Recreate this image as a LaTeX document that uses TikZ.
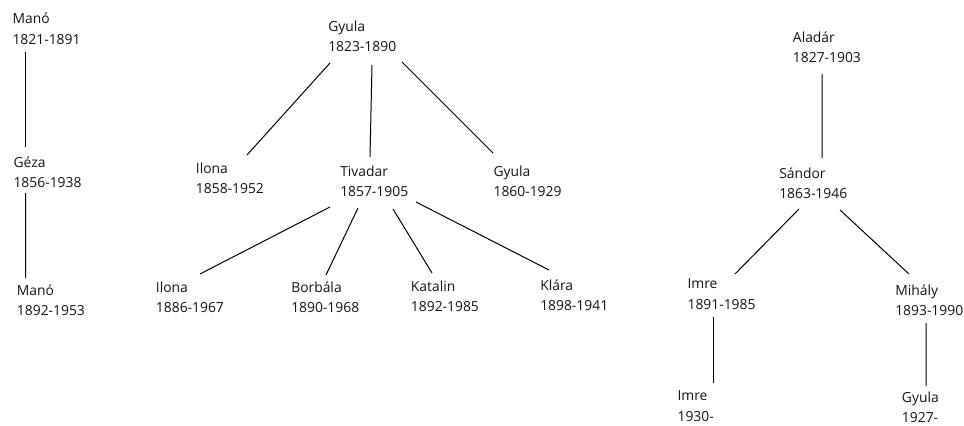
\documentclass[tikz,border=0pt]{standalone}
\usepackage{fontspec}
\setmainfont{Open Sans}
\usetikzlibrary{calc}

\definecolor{textgray}{RGB}{20,20,20}
\tikzset{
  person/.style={anchor=north west, inner sep=0pt, align=left, text=textgray,
    font=\fontsize{10.4}{15.4}\selectfont},
  kin/.style={draw=black, line width=0.75pt}
}

\begin{document}
\begin{tikzpicture}[x=0.75pt, y=-0.75pt]
  \useasboundingbox (0,0) rectangle (964,425);

  % first family
  \node[person] (mano1) at (12.3,13) {Manó\\1821-1891};
  \node[person] (geza) at (13.3,156.5) {Géza\\1856-1938};
  \node[person] (mano2) at (16.7,284.5) {Manó\\1892-1953};

  % second family
  \node[person] (gyula1) at (328,20.5) {Gyula\\1823-1890};
  \node[person] (ilona1) at (195.7,162.5) {Ilona\\1858-1952};
  \node[person] (tivadar) at (340,165.5) {Tivadar\\1857-1905};
  \node[person] (gyula2) at (493.3,165.5) {Gyula\\1860-1929};
  \node[person] (ilona2) at (155.7,281.5) {Ilona\\1886-1967};
  \node[person] (borbala) at (291,281.5) {Borbála\\1890-1968};
  \node[person] (katalin) at (410.7,280.5) {Katalin\\1892-1985};
  \node[person] (klara) at (540,279.5) {Klára\\1898-1941};

  % third family
  \node[person] (aladar) at (792.7,31.5) {Aladár\\1827-1903};
  \node[person] (sandor) at (779,167.5) {Sándor\\1863-1946};
  \node[person] (imre1) at (687.3,278.5) {Imre\\1891-1985};
  \node[person] (mihaly) at (895,284.5) {Mihály\\1893-1990};
  \node[person] (imre2) at (677.3,390.5) {Imre\\1930-};
  \node[person] (gyula3) at (901.7,391.5) {Gyula\\1927-};

  % connectors
  \draw[kin] ($(mano1.north west)+(13.4,39)$) -- ($(geza.north west)+(12.4,-9.5)$);
  \draw[kin] ($(geza.north west)+(12.4,36.5)$) -- ($(mano2.north west)+(9,-6.5)$);

  \draw[kin] ($(gyula1.north west)+(2,42.5)$) -- ($(ilona1.north west)+(51.3,-7.5)$);
  \draw[kin] ($(gyula1.north west)+(44,44.5)$) -- ($(tivadar.north west)+(30,-8.5)$);
  \draw[kin] ($(gyula1.north west)+(74,41.5)$) -- ($(gyula2.north west)+(-0.3,-12.5)$);
  \draw[kin] ($(tivadar.north west)+(-10,41.5)$) -- ($(ilona2.north west)+(44.3,-7.5)$);
  \draw[kin] ($(tivadar.north west)+(18,42.5)$) -- ($(borbala.north west)+(35,-6.5)$);
  \draw[kin] ($(tivadar.north west)+(53,43.5)$) -- ($(katalin.north west)+(21.3,-7.5)$);
  \draw[kin] ($(tivadar.north west)+(76,36.5)$) -- ($(klara.north west)+(9,-9.5)$);

  \draw[kin] ($(aladar.north west)+(29.3,42.5)$) -- ($(sandor.north west)+(43,-9.5)$);
  \draw[kin] ($(sandor.north west)+(20,41.5)$) -- ($(imre1.north west)+(47.7,-4.5)$);
  \draw[kin] ($(sandor.north west)+(61,42.5)$) -- ($(mihaly.north west)+(14,-10.5)$);
  \draw[kin] ($(imre1.north west)+(25.7,38.5)$) -- ($(imre2.north west)+(35.7,-7.5)$);
  \draw[kin] ($(mihaly.north west)+(31,38.5)$) -- ($(gyula3.north west)+(24.3,-5.5)$);
\end{tikzpicture}
\end{document}
